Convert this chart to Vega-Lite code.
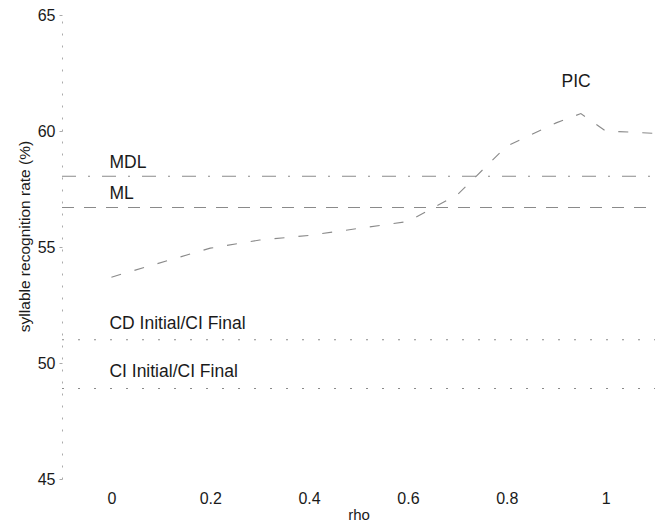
{
  "$schema": "https://vega.github.io/schema/vega-lite/v6.json",
  "width": 593,
  "height": 464,
  "padding": {"left": 62, "top": 15, "right": 6, "bottom": 50},
  "autosize": {"type": "none"},
  "background": "white",
  "config": {
    "view": {"stroke": null},
    "font": "Liberation Sans",
    "axis": {"labelFont": "Liberation Sans", "titleFont": "Liberation Sans", "labelColor": "#1a1a1a", "titleColor": "#1a1a1a", "grid": false}
  },
  "datasets": {
    "lines": [
      {"series": "MDL", "rho": -0.1, "rate": 58.05},
      {"series": "MDL", "rho": 1.1, "rate": 58.05},
      {"series": "ML", "rho": -0.1, "rate": 56.7},
      {"series": "ML", "rho": 1.1, "rate": 56.7},
      {"series": "CD Initial/CI Final", "rho": -0.1, "rate": 51.0},
      {"series": "CD Initial/CI Final", "rho": 1.1, "rate": 51.0},
      {"series": "CI Initial/CI Final", "rho": -0.1, "rate": 48.9},
      {"series": "CI Initial/CI Final", "rho": 1.1, "rate": 48.9},
      {"series": "PIC", "rho": 0.0, "rate": 53.7},
      {"series": "PIC", "rho": 0.2, "rate": 54.95},
      {"series": "PIC", "rho": 0.3, "rate": 55.3},
      {"series": "PIC", "rho": 0.4, "rate": 55.5},
      {"series": "PIC", "rho": 0.5, "rate": 55.8},
      {"series": "PIC", "rho": 0.6, "rate": 56.1},
      {"series": "PIC", "rho": 0.7, "rate": 57.25},
      {"series": "PIC", "rho": 0.8, "rate": 59.35},
      {"series": "PIC", "rho": 0.9, "rate": 60.35},
      {"series": "PIC", "rho": 0.95, "rate": 60.75},
      {"series": "PIC", "rho": 1.0, "rate": 60.0},
      {"series": "PIC", "rho": 1.1, "rate": 59.9}
    ],
    "labels": [
      {"label": "MDL", "rho": 0.0, "rate": 58.6},
      {"label": "ML", "rho": 0.0, "rate": 57.3},
      {"label": "CD Initial/CI Final", "rho": 0.0, "rate": 51.7},
      {"label": "CI Initial/CI Final", "rho": 0.0, "rate": 49.6},
      {"label": "PIC", "rho": 0.915, "rate": 62.1}
    ]
  },
  "layer": [
    {
      "data": {"name": "lines"},
      "mark": {"type": "line", "strokeWidth": 1.1, "color": "#8a8a8a", "clip": true},
      "encoding": {
        "x": {
          "field": "rho", "type": "quantitative",
          "scale": {"domain": [-0.1, 1.1], "nice": false, "zero": false},
          "axis": {"values": [0, 0.2, 0.4, 0.6, 0.8, 1], "format": "~g", "domain": false, "ticks": false, "labelPadding": 11, "labelFontSize": 16, "title": "rho", "titleFontSize": 15, "titleFontWeight": "normal", "titlePadding": 1}
        },
        "y": {
          "field": "rate", "type": "quantitative",
          "scale": {"domain": [45, 65], "nice": false, "zero": false},
          "axis": {"values": [45, 50, 55, 60, 65], "domain": true, "domainColor": "#aaa", "domainDash": [2, 10], "ticks": true, "tickSize": 3, "tickColor": "#aaa", "labelPadding": 4, "labelFontSize": 16, "title": "syllable recognition rate (%)", "titleFontSize": 15.5, "titleFontWeight": "normal", "titlePadding": 5, "titleY": 221}
        },
        "detail": {"field": "series"},
        "strokeDash": {
          "field": "series", "type": "nominal",
          "scale": {
            "domain": ["MDL", "ML", "CD Initial/CI Final", "CI Initial/CI Final", "PIC"],
            "range": [[14, 12, 2, 12], [12, 10], [2, 14], [2, 14], [10, 14]]
          },
          "legend": null
        }
      }
    },
    {
      "data": {"name": "labels"},
      "mark": {"type": "text", "align": "left", "baseline": "middle", "fontSize": 17.5, "color": "#1a1a1a", "dx": -2},
      "encoding": {
        "x": {"field": "rho", "type": "quantitative"},
        "y": {"field": "rate", "type": "quantitative"},
        "text": {"field": "label"}
      }
    }
  ]
}
